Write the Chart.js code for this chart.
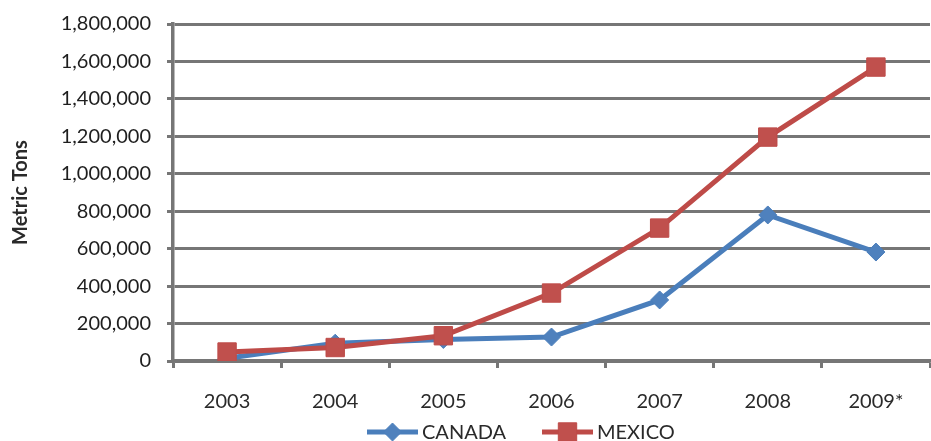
<!DOCTYPE html>
<html>
<head>
<meta charset="utf-8">
<script src="https://cdn.jsdelivr.net/npm/chart.js@4"></script>
<style>
  html, body { margin: 0; padding: 0; background: #fff; overflow: hidden; }
</style>
</head>
<body>
<canvas id="chart" width="944" height="441"></canvas>
<script>
// data
const years = ["2003", "2004", "2005", "2006", "2007", "2008", "2009*"];
const canada = [15000, 95000, 115000, 128000, 326000, 780000, 582000];
const mexico = [48000, 72000, 135000, 363000, 710000, 1196000, 1570000];
const yTicks = [0, 200000, 400000, 600000, 800000, 1000000, 1200000, 1400000, 1600000, 1800000];

const FONT = "Lato, 'Open Sans', sans-serif";
const gridColor = "#767676";

// excel style legend: line sample with marker, then the label
const lineLegend = {
    id: "lineLegend",
    afterDraw(chart) {
        const ctx = chart.ctx;
        const y = 432;
        const items = [
            { ds: chart.data.datasets[0], x: 367 },
            { ds: chart.data.datasets[1], x: 542 }
        ];
        ctx.save();
        items.forEach(function (it) {
            const ds = it.ds;
            ctx.strokeStyle = ds.borderColor;
            ctx.lineWidth = ds.borderWidth;
            ctx.beginPath();
            ctx.moveTo(it.x, y);
            ctx.lineTo(it.x + 51, y);
            ctx.stroke();
            ctx.fillStyle = ds.pointBackgroundColor;
            ctx.strokeStyle = ds.pointBorderColor;
            ctx.lineWidth = ds.pointBorderWidth;
            Chart.helpers.drawPoint(ctx, {
                pointStyle: ds.pointStyle,
                radius: ds.pointRadius,
                borderWidth: ds.pointBorderWidth,
                rotation: 0
            }, it.x + 25.5, y);
            ctx.fillStyle = "#2a2a2a";
            ctx.font = "20px " + FONT;
            ctx.textBaseline = "middle";
            ctx.textAlign = "left";
            ctx.fillText(ds.label, it.x + 55, y + 1);
        });
        ctx.restore();
    }
};

new Chart(document.getElementById("chart"), {
    type: "line",
    data: {
        labels: years,
        datasets: [
            {
                label: "CANADA",
                data: canada,
                borderColor: "#4A7EBB",
                borderWidth: 5,
                pointStyle: "rectRot",
                pointRadius: 9,
                pointBackgroundColor: "#4F81BD",
                pointBorderColor: "#4A7EBB",
                pointBorderWidth: 1,
                tension: 0,
                order: 2
            },
            {
                label: "MEXICO",
                data: mexico,
                borderColor: "#BE4B48",
                borderWidth: 5,
                pointStyle: "rect",
                pointRadius: 13,
                pointBackgroundColor: "#C0504D",
                pointBorderColor: "#BE4B48",
                pointBorderWidth: 1,
                tension: 0,
                order: 1
            }
        ]
    },
    options: {
        responsive: false,
        animation: false,
        layout: { padding: { top: 24, right: 6, bottom: 0, left: 0 } },
        plugins: {
            legend: { display: false },
            tooltip: { enabled: false }
        },
        scales: {
            x: {
                offset: true,
                afterFit: s => { s.height = 80; },
                grid: {
                    offset: true,
                    drawOnChartArea: false,
                    drawTicks: true,
                    tickLength: 7,
                    color: gridColor,
                    lineWidth: 3
                },
                border: { color: gridColor, width: 3.5 },
                ticks: {
                    color: "#2a2a2a",
                    font: { family: FONT, size: 20 },
                    padding: 22,
                    maxRotation: 0
                }
            },
            y: {
                min: 0,
                max: 1800000,
                afterFit: s => { s.width = 173; s.paddingTop = 0; s.paddingBottom = 0; },
                afterBuildTicks: s => { s.ticks = yTicks.map(v => ({ value: v })); },
                grid: {
                    color: gridColor,
                    lineWidth: 3,
                    tickLength: 6
                },
                border: { color: gridColor, width: 3.5 },
                ticks: {
                    color: "#1e1e1e",
                    font: { family: FONT, size: 20 },
                    padding: 16,
                    callback: v => v.toLocaleString("en-US")
                },
                title: {
                    display: true,
                    text: "Metric Tons",
                    color: "#2a2a2a",
                    font: { family: FONT, size: 20, weight: "bold" },
                    padding: { top: 9, bottom: 0 }
                }
            }
        }
    },
    plugins: [lineLegend]
});
</script>
</body>
</html>
